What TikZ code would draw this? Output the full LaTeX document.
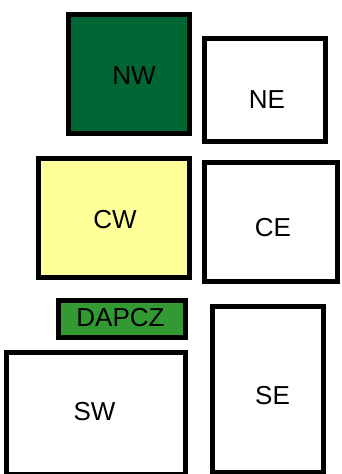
\documentclass[tikz,border=0pt]{standalone}
\usepackage{fontspec}
\setmainfont{Liberation Sans}
\usepackage{tikz}
\usetikzlibrary{calc}

\definecolor{nwgreen}{RGB}{0,102,51}
\definecolor{dagreen}{RGB}{51,153,51}
\definecolor{cwyellow}{RGB}{255,255,153}

\tikzset{
  zone/.style={draw, line width=5pt, fill=white, inner sep=0pt},
  zonetext/.style={inner sep=0pt, font=\fontsize{26}{30}\selectfont}
}

\begin{document}
\begin{tikzpicture}[x=1pt,y=-1pt]
      \useasboundingbox (0,0) rectangle (341,474);

      \node[zone,fill=nwgreen,minimum width=121pt,minimum height=119pt] (NW) at (129,74) {};
      \node[zone,minimum width=121pt,minimum height=103pt] (NE) at (265,90) {};
      \node[zone,fill=cwyellow,minimum width=151pt,minimum height=119pt] (CW) at (114,218) {};
      \node[zone,minimum width=133pt,minimum height=119pt] (CE) at (271,222) {};
      \node[zone,fill=dagreen,minimum width=127pt,minimum height=37pt] (DA) at (122,319) {};
      \node[zone,minimum width=179pt,minimum height=122pt] (SW) at (96,413.5) {};
      \node[zone,minimum width=111pt,minimum height=166pt] (SE) at (268,389.5) {};

      \node[zonetext] at ($(NW)+(5,1.5)$) {NW};
      \node[zonetext] at ($(NE)+(2,9.5)$) {NE};
      \node[zonetext] at ($(CW)+(1,1.5)$) {CW};
      \node[zonetext] at ($(CE)+(2,5.5)$) {CE};
      \node[zonetext] at ($(DA)+(-1.5,-1.5)$) {DAPCZ};
      \node[zonetext] at ($(SW)+(-1.5,-2)$) {SW};
      \node[zonetext] at ($(SE)+(4.5,6)$) {SE};
    \end{tikzpicture}
\end{document}
